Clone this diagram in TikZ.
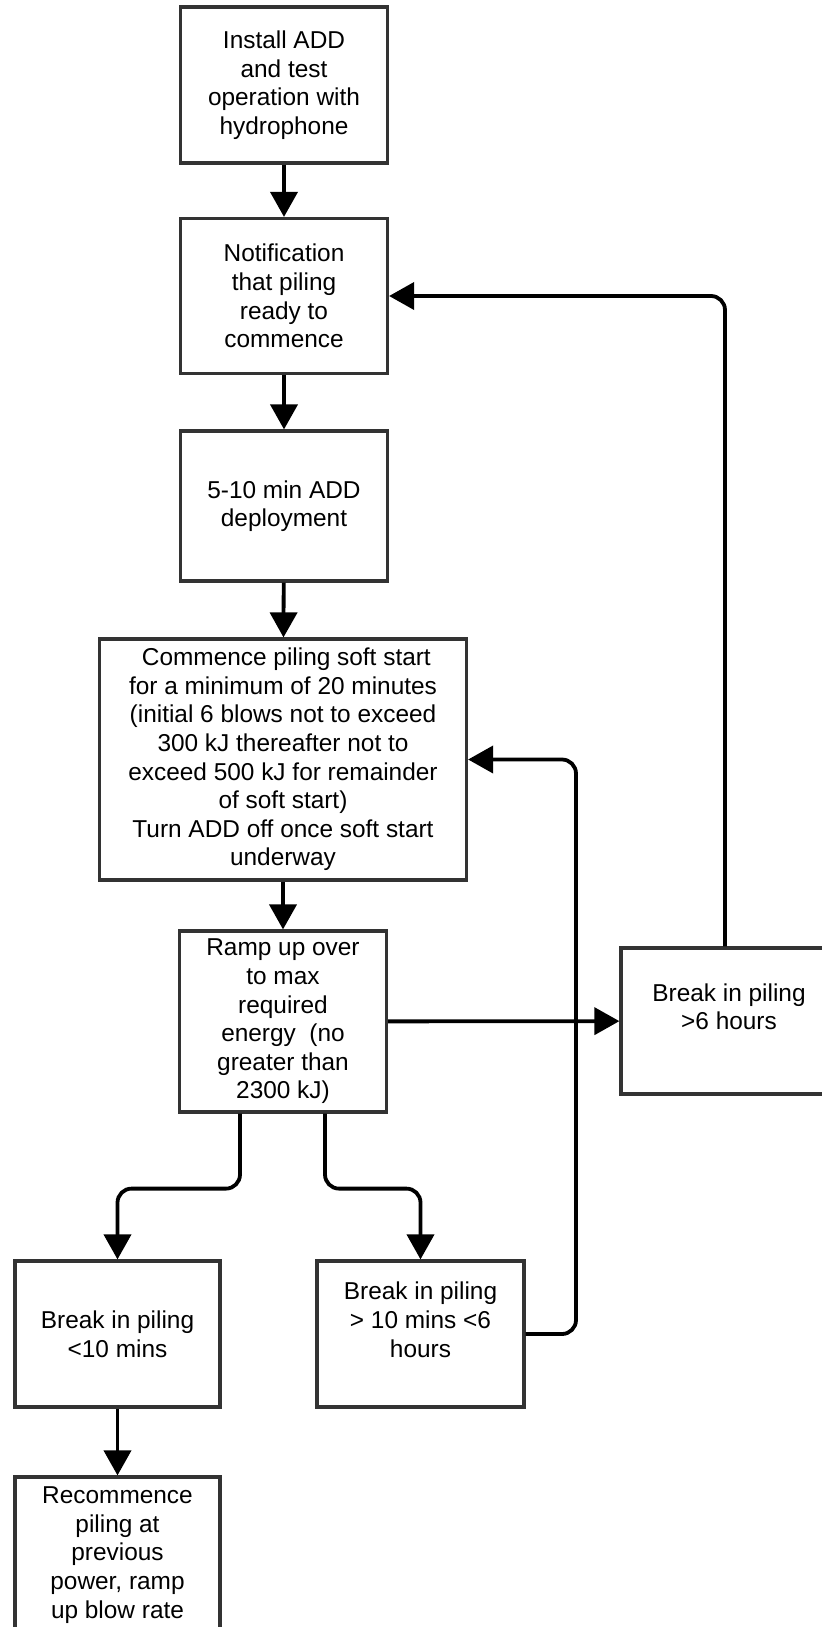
\documentclass[tikz,border=0pt]{standalone}
\usepackage{fontspec}
\setmainfont{Liberation Sans}
\usetikzlibrary{positioning, arrows.meta, calc}
\definecolor{boxgray}{HTML}{333333}

\begin{document}
\begin{tikzpicture}[x=1bp, y=1bp, ->, >={Triangle[length=25bp, width=27bp]},
    line width=3.8bp,
    proc/.style={rectangle, draw=boxgray, line width=3.2bp, align=center, inner sep=2bp,
      minimum width=207bp, font=\fontsize{24.4bp}{28.6bp}\selectfont},
    link/.style={rounded corners=14bp},
  ]
  \useasboundingbox (0,0) rectangle (821,-1627);

  % main column of steps
  \node[proc, minimum height=156bp] (install) at (284,-85) {Install ADD\\and test\\operation with\\hydrophone};
  \node[proc, minimum height=155bp] (notify) at (284,-296) {Notification\\that piling\\ready to\\commence};
  \node[proc, minimum height=150bp] (deploy) at (284,-506) {5-10 min ADD\\deployment};
  \node[proc, minimum width=367bp, minimum height=241bp] (softstart) at (283,-759.5)
    {\ Commence piling soft start\\for a minimum of 20 minutes\\(initial 6 blows not to exceed\\300 kJ thereafter not to\\exceed 500 kJ for remainder\\of soft start)\\Turn ADD off once soft start\\underway};
  \node[proc, minimum height=181bp] (rampup) at (283,-1021.5) {Ramp up over\\to max\\required\\energy\ \ (no\\greater than\\2300 kJ)};

  % breaks in piling
  \node[proc, minimum width=216bp, minimum height=146bp] (breaklong) at (729,-1021) {Break in piling\\>6 hours\\\mbox{}};
  \node[proc, minimum width=205bp, minimum height=146bp] (breakshort) at (117.5,-1334) {Break in piling\\<10 mins};
  \node[proc, minimum height=146bp] (breakmid) at (420.5,-1334) {Break in piling\\> 10 mins <6\\hours\\\mbox{}};
  \node[proc, minimum width=205bp, minimum height=156bp] (restart) at (117.5,-1555)
    {Recommence\\piling at\\previous\\power, ramp\\up blow rate};

  % straight steps
  \draw (install) -- (notify);
  \draw (notify) -- (deploy);
  \draw (deploy) -- (softstart);
  \draw (softstart) -- (rampup);
  \draw (rampup) -- (breaklong);
  \draw (breakshort) -- (restart);

  % branches out of the ramp up
  \draw[link] ([xshift=-43bp]rampup.south) -- ++(0,-75) -| (breakshort.north);
  \draw[link] ([xshift=42bp]rampup.south) -- ++(0,-75) -| (breakmid.north);

  % loops back
  \draw[link] ([xshift=-4bp]breaklong.north) |- (notify.east);
  \coordinate (backx) at (576,-1334);
  \draw[link] (breakmid.east) -- (backx) |- (softstart.east);
\end{tikzpicture}
\end{document}
